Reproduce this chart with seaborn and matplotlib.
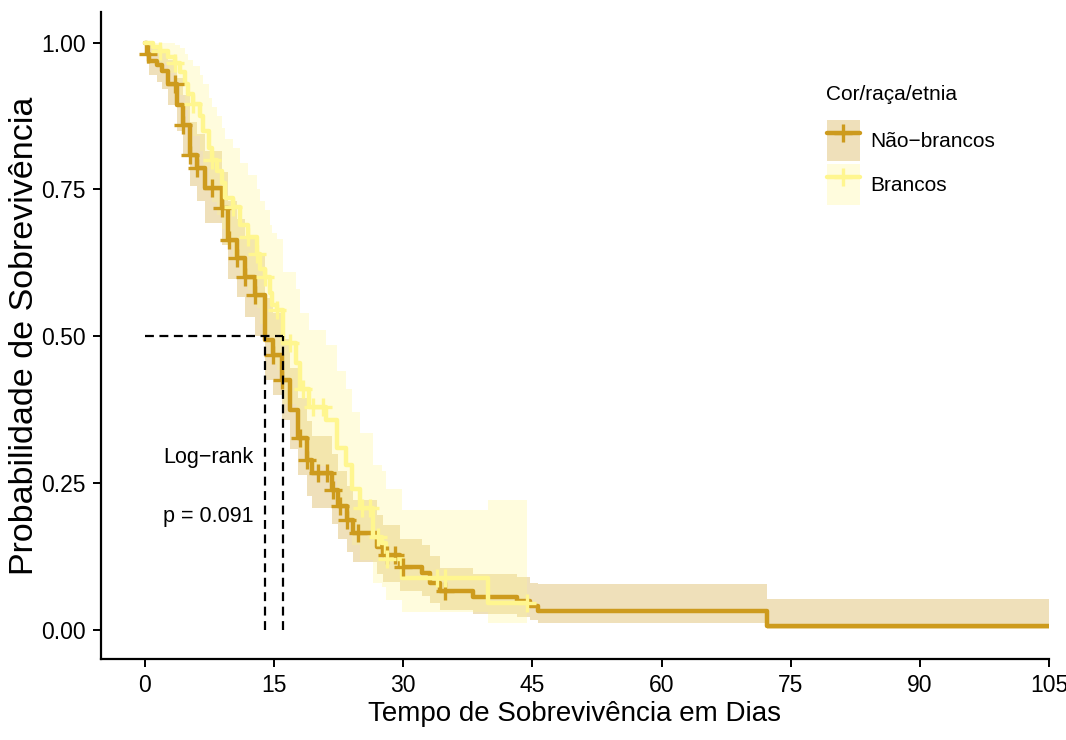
import numpy as np
import pandas as pd
import matplotlib
matplotlib.use("Agg")
import matplotlib.pyplot as plt
import seaborn as sns
from matplotlib.patches import Patch
from matplotlib.lines import Line2D

# ---------------- data ----------------
groups = ["Não−brancos", "Brancos"]
legend_title = "Cor/raça/etnia"
colors = ["#CD9B1D", "#FFF68F"]

nb_time = [0, 0.2, 0.5, 1.4, 2.0, 2.7, 3.7, 4.4, 5.2, 6.0, 7.0, 8.9, 9.6, 10.7, 11.6, 12.8,
           13.9, 14.9, 15.9, 16.8, 17.8, 18.8, 19.4, 21.7, 22.4, 23.5, 24.2, 26.9, 27.6,
           29.6, 32.2, 33.1, 34.3, 38.1, 43.2, 44.7, 45.6, 72.2]
nb_surv = [1.0, 0.981, 0.969, 0.961, 0.952, 0.930, 0.893, 0.859, 0.808, 0.787, 0.753, 0.718,
           0.663, 0.633, 0.600, 0.570, 0.493, 0.468, 0.425, 0.374, 0.327, 0.289, 0.267, 0.238,
           0.210, 0.187, 0.165, 0.141, 0.127, 0.107, 0.097, 0.080, 0.065, 0.056, 0.048, 0.040,
           0.031, 0.007]
nb_upper = [1.0, 1.0, 0.995, 0.99, 0.985, 0.97, 0.94, 0.91, 0.865, 0.845, 0.815, 0.78, 0.73,
            0.70, 0.67, 0.64, 0.565, 0.54, 0.495, 0.445, 0.395, 0.355, 0.33, 0.30, 0.27, 0.245,
            0.22, 0.195, 0.178, 0.155, 0.145, 0.125, 0.105, 0.095, 0.09, 0.08, 0.077, 0.053]
nb_lower = [1.0, 0.963, 0.944, 0.932, 0.92, 0.893, 0.85, 0.81, 0.755, 0.73, 0.693, 0.655, 0.598,
            0.567, 0.532, 0.50, 0.425, 0.40, 0.357, 0.308, 0.264, 0.228, 0.207, 0.18, 0.155,
            0.133, 0.115, 0.095, 0.082, 0.065, 0.058, 0.045, 0.033, 0.027, 0.021, 0.016, 0.011,
            0.001]
nb_end = 105
nb_censor = [0.35, 3.5, 4.4, 5.2, 6.0, 7.8, 8.9, 9.8, 10.7, 11.6, 12.8, 14.9, 15.9, 18.0, 18.8,
             20.1, 21.1, 21.8, 22.6, 23.5, 24.7, 28.1, 29.0, 30.0, 34.9]

br_time = [0, 0.9, 1.7, 2.7, 3.5, 4.1, 4.6, 5.0, 5.6, 6.4, 6.7, 7.5, 7.8, 8.4, 8.9, 9.3, 10.2,
           11.0, 12.0, 13.0, 13.4, 14.0, 14.5, 14.8, 15.3, 16.0, 17.5, 18.0, 19.0, 21.0, 22.3,
           23.3, 24.0, 25.0, 26.5, 27.5, 28.0, 29.8, 39.8]
br_surv = [1.0, 0.993, 0.985, 0.975, 0.965, 0.950, 0.930, 0.912, 0.895, 0.875, 0.850, 0.820,
           0.800, 0.782, 0.760, 0.736, 0.720, 0.690, 0.668, 0.640, 0.615, 0.600, 0.573, 0.553,
           0.544, 0.488, 0.455, 0.410, 0.380, 0.357, 0.310, 0.280, 0.240, 0.207, 0.158, 0.148,
           0.120, 0.088, 0.046]
br_upper = [1.0, 1.0, 1.0, 1.0, 0.995, 0.99, 0.98, 0.97, 0.96, 0.945, 0.93, 0.905, 0.89, 0.875,
            0.855, 0.835, 0.82, 0.795, 0.775, 0.75, 0.73, 0.715, 0.69, 0.675, 0.665, 0.61, 0.58,
            0.54, 0.51, 0.485, 0.44, 0.41, 0.37, 0.335, 0.28, 0.27, 0.24, 0.204, 0.22]
br_lower = [1.0, 0.98, 0.965, 0.948, 0.932, 0.91, 0.885, 0.862, 0.84, 0.815, 0.785, 0.75, 0.728,
            0.707, 0.682, 0.655, 0.637, 0.603, 0.578, 0.547, 0.52, 0.503, 0.475, 0.453, 0.443,
            0.385, 0.353, 0.308, 0.278, 0.257, 0.21, 0.183, 0.145, 0.118, 0.08, 0.072, 0.05,
            0.03, 0.012]
br_end = 44.4
br_censor = [1.7, 3.5, 5.6, 7.8, 10.2, 12.0, 13.0, 14.0, 15.3, 16.8, 18.4, 19.5, 20.7, 25.2,
             26.1, 27.1, 28.1, 33.9, 34.8, 44.4]

medians = [13.9, 16.0]
x_ticks = [0, 15, 30, 45, 60, 75, 90, 105]
y_ticks = [0.0, 0.25, 0.5, 0.75, 1.0]
y_ticklabels = ["0.00", "0.25", "0.50", "0.75", "1.00"]

# ---------------- style ----------------
sns.set_theme(style="ticks")
plt.rcParams["font.family"] = ["Liberation Sans", "DejaVu Sans"]
plt.rcParams["text.color"] = "black"
plt.rcParams["axes.labelcolor"] = "black"

fig = plt.figure(figsize=(10.66, 7.40), dpi=100)
ax = fig.add_axes([101 / 1066, 1 - 659 / 740, (1049 - 101) / 1066, (659 - 12) / 740])

series = [
    (groups[0], nb_time, nb_surv, nb_lower, nb_upper, nb_end, nb_censor),
    (groups[1], br_time, br_surv, br_lower, br_upper, br_end, br_censor),
]

rows = []
cens_rows = []
for g, t, s, lo, up, end, cens in series:
    t_ext = list(t) + [end]
    s_ext = list(s) + [s[-1]]
    lo_ext = list(lo) + [lo[-1]]
    up_ext = list(up) + [up[-1]]
    col = colors[groups.index(g)]
    ax.fill_between(t_ext, lo_ext, up_ext, step="post", color=col, alpha=0.3, lw=0, zorder=1)
    for ti, si in zip(t_ext, s_ext):
        rows.append({"time": ti, "surv": si, "grupo": g})
    t_arr = np.array(t)
    for c in cens:
        idx = np.searchsorted(t_arr, c, side="right") - 1
        cens_rows.append({"time": c, "surv": s[idx], "grupo": g})

df = pd.DataFrame(rows)
cdf = pd.DataFrame(cens_rows)
palette = dict(zip(groups, colors))

for g in groups:
    sub = df[df.grupo == g]
    sns.lineplot(data=sub, x="time", y="surv", color=palette[g], drawstyle="steps-post",
                 estimator=None, sort=False, lw=3.2, ax=ax, zorder=3, legend=False)
    csub = cdf[cdf.grupo == g]
    sns.scatterplot(data=csub, x="time", y="surv", color=palette[g], marker="+", s=170,
                    linewidth=2.4, ax=ax, zorder=4, legend=False)

# median lines
ax.plot([0, max(medians)], [0.5, 0.5], ls=(0, (4, 2.5)), color="black", lw=1.6, zorder=5)
for m in medians:
    ax.plot([m, m], [0, 0.5], ls=(0, (4, 2.5)), color="black", lw=1.6, zorder=5)

ax.text(2.1, 0.293, "Log−rank", fontsize=15.5, va="center", ha="left", color="black")
ax.text(2.1, 0.192, "p = 0.091", fontsize=15.5, va="center", ha="left", color="black")

ax.set_xlim(-5.1, 105)
ax.set_ylim(-0.05, 1.052)
ax.set_xticks(x_ticks)
ax.set_yticks(y_ticks)
ax.set_yticklabels(y_ticklabels)
ax.tick_params(axis="both", labelsize=16.5, length=6, width=1.4, color="black",
               labelcolor="black", pad=5)
for sp in ["top", "right"]:
    ax.spines[sp].set_visible(False)
for sp in ["left", "bottom"]:
    ax.spines[sp].set_color("black")
    ax.spines[sp].set_linewidth(1.6)
ax.set_xlabel("Tempo de Sobrevivência em Dias", fontsize=20, labelpad=3, color="black")
ax.set_ylabel("Probabilidade de Sobrevivência", fontsize=24.5, color="black")
ax.yaxis.set_label_coords((40 - 101) / 948, 0.5)

handles = []
for g in groups:
    c = palette[g]
    handles.append((Patch(facecolor=c, alpha=0.3, lw=0),
                    Line2D([], [], color=c, lw=3.2, marker="+", ms=13, mew=2.4)))
fig.text(826 / 1066, 1 - 94 / 740, legend_title, fontsize=15, va="center", ha="left",
         color="black")
leg = fig.legend(handles, groups, loc="upper left",
                 bbox_to_anchor=(808 / 1066, 1 - 101 / 740), frameon=False, fontsize=15,
                 handlelength=1.6, handleheight=2.7, handletextpad=0.5,
                 labelspacing=0.1, borderpad=0.4)
for t in leg.get_texts():
    t.set_color("black")

fig.savefig("out.png", dpi=100)
